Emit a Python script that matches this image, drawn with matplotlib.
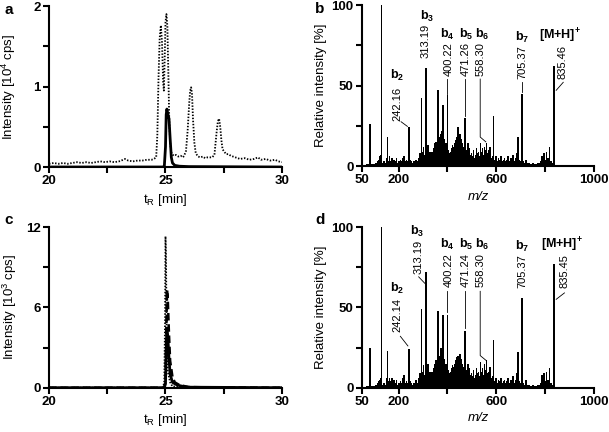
import matplotlib
matplotlib.use("Agg")
import matplotlib.pyplot as plt

plt.rcParams['font.family'] = ['Liberation Sans', 'DejaVu Sans']
plt.rcParams['mathtext.fontset'] = 'custom'
plt.rcParams['mathtext.rm'] = 'Liberation Sans'
plt.rcParams['mathtext.it'] = 'Liberation Sans:italic'
plt.rcParams['mathtext.bf'] = 'Liberation Sans:bold'
plt.rcParams['mathtext.default'] = 'regular'

# ---------------- data ----------------
# panel a: chromatograms (t in min, intensity in 10^4 cps)
t_a_dot = [20.0, 20.2, 20.4, 20.6, 20.8, 21.0, 21.2, 21.4, 21.6, 21.8, 22.0, 22.2, 22.4,
           22.6, 22.8, 23.0, 23.1, 23.26, 23.4, 23.6, 23.8, 24.0, 24.2, 24.4, 24.5, 24.6,
           24.65, 24.7, 24.75, 24.8, 24.85, 24.9, 24.93, 24.97, 25.0, 25.04, 25.08, 25.12,
           25.16, 25.2, 25.26, 25.35, 25.45, 25.55, 25.65, 25.75, 25.8, 25.88, 25.95, 26.02,
           26.06, 26.1, 26.14, 26.18, 26.24, 26.3, 26.4, 26.5, 26.6, 26.7, 26.8, 26.9, 27.0,
           27.1, 27.15, 27.2, 27.25, 27.3, 27.35, 27.4, 27.45, 27.5, 27.6, 27.7, 27.8, 27.9,
           28.0, 28.2, 28.4, 28.6, 28.8, 28.97, 29.1, 29.3, 29.5, 29.7, 29.85, 30.0]
i_a_dot = [0.04, 0.05, 0.04, 0.05, 0.04, 0.05, 0.06, 0.05, 0.06, 0.05, 0.06, 0.07, 0.06,
           0.07, 0.06, 0.07, 0.08, 0.10, 0.08, 0.07, 0.08, 0.08, 0.09, 0.09, 0.10, 0.12,
           0.40, 1.10, 1.60, 1.76, 1.55, 1.05, 0.95, 1.40, 1.80, 1.90, 1.75, 1.20,
           0.60, 0.30, 0.17, 0.14, 0.15, 0.13, 0.14, 0.12, 0.14, 0.20, 0.45, 0.80,
           0.95, 0.99, 0.90, 0.60, 0.30, 0.17, 0.13, 0.12, 0.13, 0.11, 0.12, 0.12, 0.12,
           0.15, 0.30, 0.45, 0.57, 0.60, 0.50, 0.33, 0.22, 0.20, 0.16, 0.16, 0.14, 0.13,
           0.12, 0.10, 0.11, 0.09, 0.10, 0.12, 0.09, 0.10, 0.08, 0.09, 0.07, 0.06]
t_a_solid = [20.0, 24.9, 24.95, 25.0, 25.03, 25.06, 25.1, 25.15, 25.2, 25.25, 25.3, 25.4,
             25.6, 26.0, 30.0]
i_a_solid = [0.0, 0.0, 0.01, 0.25, 0.65, 0.72, 0.66, 0.60, 0.35, 0.12, 0.05, 0.02,
             0.01, 0.005, 0.0]

# panel c: chromatograms (intensity in 10^3 cps)
t_c_dot = [20.0, 24.9, 24.95, 24.98, 25.0, 25.02, 25.05, 25.1, 25.2, 25.3, 26.0, 30.0]
i_c_dot = [0.0, 0.0, 0.5, 5.0, 11.3, 10.0, 4.0, 1.2, 0.4, 0.1, 0.0, 0.0]
t_c_dash = [20.0, 24.95, 25.0, 25.04, 25.07, 25.1, 25.15, 25.2, 25.3, 25.4, 25.6, 26.0, 27.0, 30.0]
i_c_dash = [0.0, 0.0, 0.5, 5.0, 7.3, 6.5, 4.0, 2.0, 0.8, 0.4, 0.2, 0.05, 0.02, 0.0]
t_c_solid = [20.0, 24.95, 25.0, 25.04, 25.06, 25.1, 25.15, 25.2, 25.3, 25.5, 25.8, 26.0, 30.0]
i_c_solid = [0.0, 0.0, 0.3, 3.5, 4.3, 3.8, 2.2, 1.0, 0.4, 0.2, 0.08, 0.04, 0.0]

# panel b: MS/MS spectrum (m/z, relative intensity %)
mz_b = [70, 75, 82, 90, 98, 105, 110, 115, 120, 124, 127, 130, 134, 140, 145, 150, 154, 158,
        163, 168, 172, 177, 182, 187, 192, 197, 202, 207, 212, 217, 222, 228, 232, 237, 242,
        247, 252, 257, 262, 267, 272, 277, 282, 287, 293, 297, 302, 306, 310, 313, 317, 321,
        325, 329, 333, 337, 341, 345, 349, 353, 357, 361, 365, 369, 373, 377, 382, 386, 390,
        394, 397, 400, 404, 408, 412, 416, 420, 424, 428, 432, 436, 440, 443, 447, 451, 455,
        459, 463, 467, 471, 475, 479, 483, 487, 491, 495, 499, 503, 507, 511, 515, 519, 523,
        527, 531, 535, 539, 543, 547, 551, 555, 559, 563, 567, 571, 575, 580, 585, 589, 594,
        599, 604, 609, 614, 619, 624, 629, 634, 639, 644, 649, 654, 659, 664, 669, 674, 679,
        684, 689, 694, 700, 705, 710, 715, 721, 727, 733, 739, 745, 751, 757, 763, 769, 775,
        781, 786, 791, 796, 800, 805, 811, 817, 823, 829, 835]
int_b = [1, 1, 26, 1, 1, 2, 2, 3, 4, 6, 7, 100, 2, 3, 2, 5, 18, 3,
         6, 3, 5, 2, 4, 3, 5, 2, 3, 4, 3, 5, 6, 3, 4, 3, 24,
         4, 3, 2, 3, 2, 4, 3, 5, 8, 42, 9, 12, 7, 8, 61, 9, 13,
         8, 9, 8, 9, 8, 11, 14, 15, 12, 47, 18, 14, 20, 22, 38, 17, 12,
         14, 10, 44, 10, 8, 9, 11, 13, 12, 14, 12, 16, 18, 24, 16, 20, 17,
         14, 12, 10, 30, 10, 8, 14, 11, 9, 7, 8, 6, 10, 5, 7, 11, 8,
         9, 6, 14, 9, 11, 7, 12, 10, 14, 8, 6, 10, 12, 5, 6, 31, 4,
         6, 3, 5, 4, 6, 3, 4, 5, 3, 4, 6, 3, 5, 4, 7, 3, 5,
         8, 18, 4, 3, 45, 3, 2, 4, 2, 2, 1, 1, 2, 1, 1, 2, 2,
         3, 6, 3, 8, 4, 9, 5, 12, 3, 2, 62]

# panel d: MS/MS spectrum
mz_d = [70, 75, 82, 90, 98, 105, 110, 115, 120, 124, 127, 130, 134, 140, 145, 150, 154, 158,
        163, 168, 172, 177, 182, 187, 192, 197, 202, 207, 212, 217, 222, 228, 232, 237, 242,
        247, 252, 257, 262, 267, 272, 277, 282, 287, 293, 297, 302, 306, 310, 313, 317, 321,
        325, 329, 333, 337, 341, 345, 349, 353, 357, 361, 365, 369, 373, 377, 382, 386, 390,
        394, 397, 400, 404, 408, 412, 416, 420, 424, 428, 432, 436, 440, 443, 447, 451, 455,
        459, 463, 467, 471, 475, 479, 483, 487, 491, 495, 499, 503, 507, 511, 515, 519, 523,
        527, 531, 535, 539, 543, 547, 551, 555, 559, 563, 567, 571, 575, 580, 585, 589, 594,
        599, 604, 609, 614, 619, 624, 629, 634, 639, 644, 649, 654, 659, 664, 669, 674, 679,
        684, 689, 694, 700, 705, 710, 715, 721, 727, 733, 739, 745, 751, 757, 763, 769, 775,
        781, 786, 791, 796, 800, 805, 811, 817, 823, 829, 835, 838]
int_d = [1, 1, 25, 1, 1, 2, 2, 3, 4, 5, 6, 100, 2, 3, 2, 6, 23, 4,
         6, 4, 6, 2, 5, 3, 5, 2, 3, 4, 3, 6, 8, 3, 4, 3, 24,
         4, 3, 2, 3, 2, 5, 3, 6, 9, 49, 10, 14, 8, 9, 72, 10, 15,
         9, 10, 8, 10, 9, 12, 15, 17, 13, 48, 20, 15, 25, 24, 45, 18, 13,
         15, 11, 45, 11, 9, 10, 12, 14, 13, 15, 13, 17, 19, 20, 17, 21, 18,
         15, 13, 11, 35, 11, 9, 15, 12, 10, 8, 9, 7, 11, 6, 8, 12, 9,
         10, 7, 16, 10, 12, 8, 15, 11, 17, 9, 7, 10, 13, 6, 7, 30, 4,
         6, 3, 5, 4, 6, 3, 4, 5, 3, 4, 6, 3, 5, 4, 7, 3, 5,
         9, 22, 4, 3, 56, 3, 2, 5, 2, 2, 1, 1, 2, 1, 1, 2, 2,
         3, 8, 4, 9, 4, 10, 5, 12, 3, 2, 77, 31]

# peak annotations
b_labels = ['b$_\\mathbf{2}$', 'b$_\\mathbf{3}$', 'b$_\\mathbf{4}$', 'b$_\\mathbf{5}$',
            'b$_\\mathbf{6}$', 'b$_\\mathbf{7}$', '[M+H]$^\\mathbf{+}$']
b_values = ['242.16', '313.19', '400.22', '471.26', '558.30', '705.37', '835.46']
d_values = ['242.14', '313.19', '400.22', '471.24', '558.30', '705.37', '835.45']

# ---------------- layout ----------------
fig = plt.figure(figsize=(6.09, 4.32), dpi=100)
ax_a = fig.add_axes([0.0805, 0.6134, 0.3825, 0.3726])
ax_b = fig.add_axes([0.5944, 0.6157, 0.3810, 0.3727])
ax_c = fig.add_axes([0.0805, 0.1025, 0.3825, 0.3720])
ax_d = fig.add_axes([0.5944, 0.1025, 0.3810, 0.3720])

LW_SP = 1.5
TICK_FS = 9.5


def style(ax):
    for s in ['top', 'right']:
        ax.spines[s].set_visible(False)
    for s in ['left', 'bottom']:
        ax.spines[s].set_linewidth(LW_SP)
    ax.tick_params(direction='out', length=4, width=LW_SP, labelsize=TICK_FS, pad=2)


# ---- panel a ----
ax = ax_a
style(ax)
ax.plot(t_a_dot, i_a_dot, color='black', lw=1.3, linestyle=(0, (0.8, 0.9)))
ax.plot(t_a_solid, i_a_solid, color='black', lw=2.0)
ax.set_xlim(20, 30)
ax.set_ylim(0, 2)
ax.set_xticks([20, 22.5, 25, 27.5, 30])
ax.set_xticklabels(['20', '', '25', '', '30'], fontweight='bold')
ax.set_yticks([0, 0.5, 1, 1.5, 2])
ax.set_yticklabels(['0', '', '1', '', '2'], fontweight='bold')
ax.set_xlabel('t$_\\mathregular{R}$ [min]', fontsize=9.5, labelpad=3)
ax.set_ylabel('Intensity [10$^4$ cps]', fontsize=9.5, labelpad=11)

# ---- panel c ----
ax = ax_c
style(ax)
ax.plot(t_c_dot, i_c_dot, color='black', lw=1.3, linestyle=(0, (0.8, 0.9)))
ax.plot(t_c_dash, i_c_dash, color='black', lw=1.8, linestyle=(0, (3, 1.5)))
ax.plot(t_c_solid, i_c_solid, color='black', lw=2.0)
ax.set_xlim(20, 30)
ax.set_ylim(0, 12)
ax.set_xticks([20, 22.5, 25, 27.5, 30])
ax.set_xticklabels(['20', '', '25', '', '30'], fontweight='bold')
ax.set_yticks([0, 3, 6, 9, 12])
ax.set_yticklabels(['0', '', '6', '', '12'], fontweight='bold')
ax.set_xlabel('t$_\\mathregular{R}$ [min]', fontsize=9.5, labelpad=3)
ax.set_ylabel('Intensity [10$^3$ cps]', fontsize=9.5, labelpad=5)


# ---- spectra ----
def spectrum(ax, mz, inten, values, num_pos, lab_pos, leaders):
    style(ax)
    ax.bar(mz, inten, width=6.5, color='black', linewidth=0, antialiased=False)
    ax.set_xlim(50, 1000)
    ax.set_ylim(0, 100)
    ax.set_xticks([50, 200, 400, 600, 800, 1000])
    ax.set_xticklabels(['50', '200', '', '600', '', '1000'], fontweight='bold')
    ax.set_yticks([0, 25, 50, 75, 100])
    ax.set_yticklabels(['0', '', '50', '', '100'], fontweight='bold')
    ax.set_xlabel('m/z', fontsize=9.5, style='italic', labelpad=3)
    ax.set_ylabel('Relative intensity [%]', fontsize=9.5, labelpad=3)
    # numbers: (x, top y)
    for v, (x, y) in zip(values, num_pos):
        ax.text(x, y, v, rotation=90, ha='center', va='top', fontsize=8,
                clip_on=False)
    for lb, (x, y) in zip(b_labels, lab_pos):
        ax.text(x, y, lb, ha='center', va='center', fontsize=9, fontweight='bold',
                clip_on=False)
    for seg in leaders:
        xs = [p[0] for p in seg]
        ys = [p[1] for p in seg]
        ax.plot(xs, ys, color='black', lw=0.6, clip_on=False)


spectrum(ax_b, mz_b, int_b, b_values,
         num_pos=[(194, 49), (312, 88), (405, 77), (473, 77), (534, 77), (705, 75), (872, 75)],
         lab_pos=[(194, 56), (316, 93), (398, 82), (476, 82), (543, 82), (705, 80), (861, 81)],
         leaders=[[(210, 27.5), (236, 24.6)],
                  [(400, 54), (400, 45)],
                  [(471, 54), (471, 31)],
                  [(534, 54), (534, 18), (557, 15)],
                  [(705, 52), (705, 46)],
                  [(874, 52), (845, 47)]])

spectrum(ax_d, mz_d, int_d, d_values,
         num_pos=[(194, 56), (282, 92), (405, 84), (473, 84), (534, 84), (705, 83), (879, 83)],
         lab_pos=[(194, 62), (275, 97), (398, 89), (476, 89), (543, 89), (705, 88), (868, 89)],
         leaders=[[(207, 32), (238, 26)],
                  [(282, 69), (307, 65)],
                  [(400, 60), (400, 47)],
                  [(471, 60), (471, 37)],
                  [(534, 60), (534, 20), (558, 17)],
                  [(879, 59), (845, 55)]])

# panel letters
for lt, (x, y) in zip(['a', 'b', 'c', 'd'],
                      [(9, 10), (320, 9), (9, 220), (320, 220)]):
    fig.text(x / 609, 1 - y / 432, lt, fontsize=11, fontweight='bold',
             ha='center', va='center')

fig.savefig('out.png', dpi=100)
